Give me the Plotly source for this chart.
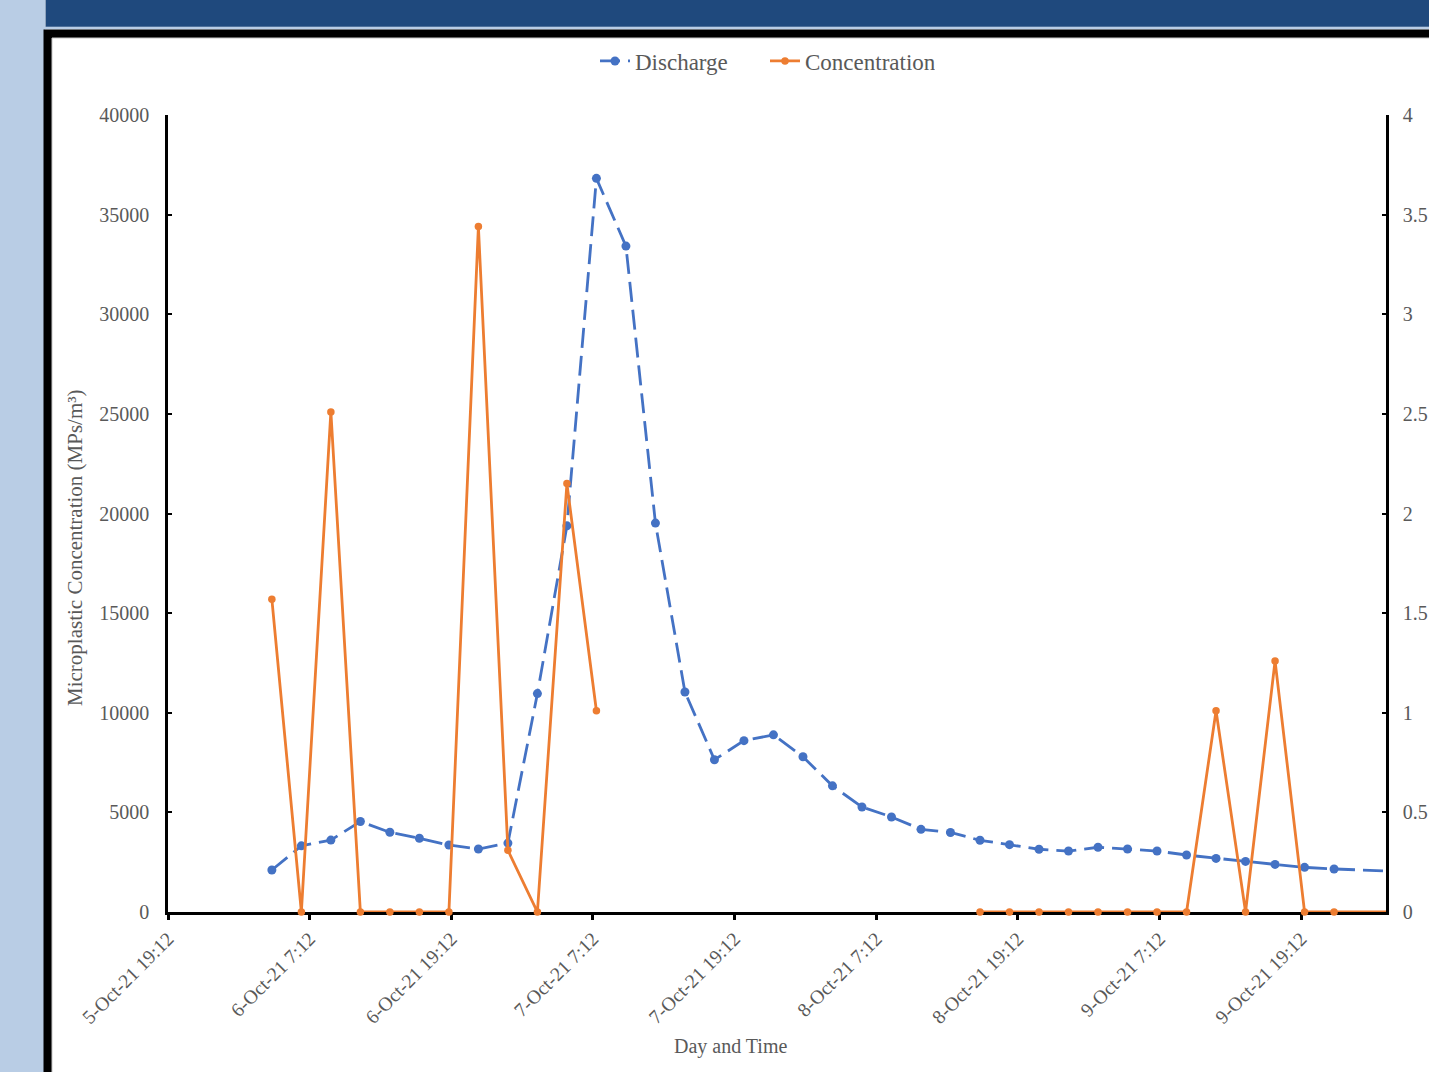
import plotly.graph_objects as go

# ---------------- data ----------------
times = [
    "2021-10-06 04:00", "2021-10-06 06:30", "2021-10-06 09:00", "2021-10-06 11:30",
    "2021-10-06 14:00", "2021-10-06 16:30", "2021-10-06 19:00", "2021-10-06 21:30",
    "2021-10-07 00:00", "2021-10-07 02:30", "2021-10-07 05:00", "2021-10-07 07:30",
    "2021-10-07 10:00", "2021-10-07 12:30", "2021-10-07 15:00", "2021-10-07 17:30",
    "2021-10-07 20:00", "2021-10-07 22:30", "2021-10-08 01:00", "2021-10-08 03:30",
    "2021-10-08 06:00", "2021-10-08 08:30", "2021-10-08 11:00", "2021-10-08 13:30",
    "2021-10-08 16:00", "2021-10-08 18:30", "2021-10-08 21:00", "2021-10-08 23:30",
    "2021-10-09 02:00", "2021-10-09 04:30", "2021-10-09 07:00", "2021-10-09 09:30",
    "2021-10-09 12:00", "2021-10-09 14:30", "2021-10-09 17:00", "2021-10-09 19:30",
    "2021-10-09 22:00", "2021-10-10 03:00",
]

discharge = [
    2110, 3320, 3610, 4540, 4000, 3700, 3360, 3160,
    3460, 10960, 19380, 36820, 33420, 19520, 11040, 7640,
    8600, 8890, 7790, 6330, 5270, 4770, 4150, 3990,
    3600, 3380, 3150, 3060, 3250, 3160, 3060, 2860,
    2690, 2540, 2390, 2240, 2160, 2050,
]

concentration = [
    1.57, 0, 2.51, 0, 0, 0, 0, 3.44,
    0.31, 0, 2.15, 1.01, None, None, None, None,
    None, None, None, None, None, None, None, None,
    0, 0, 0, 0, 0, 0, 0, 0,
    1.01, 0, 1.26, 0, 0, 0,
]

x_range = ["2021-10-05 19:12", "2021-10-10 02:24"]
left_ticks = [0, 5000, 10000, 15000, 20000, 25000, 30000, 35000, 40000]
right_ticks = [0, 0.5, 1, 1.5, 2, 2.5, 3, 3.5, 4]

# ---------------- style ----------------
BLUE = "#4472C4"
ORANGE = "#ED7D31"
GREY = "#595959"
SERIF = "Liberation Serif, Times New Roman, serif"

W, H = 1429, 1072
L, R, T, B = 168, 1386, 115, 912  # plot area in pixels


def px(xp):
    return (xp - L) / (R - L)


def py(yp):
    return (B - yp) / (B - T)


fig = go.Figure()

fig.add_trace(go.Scatter(
    x=times, y=discharge, name="Discharge", mode="lines+markers",
    line=dict(color=BLUE, width=2.8, dash="20px,8px"),
    marker=dict(color=BLUE, size=9),
    yaxis="y", cliponaxis=True,
))

fig.add_trace(go.Scatter(
    x=times, y=concentration, name="Concentration", mode="lines+markers",
    line=dict(color=ORANGE, width=2.8),
    marker=dict(color=ORANGE, size=7.5),
    yaxis="y2", cliponaxis=False, connectgaps=False,
))

shapes = [
    dict(type="rect", xref="paper", yref="paper", x0=px(0), x1=px(45), y0=py(W + 100), y1=py(0),
         fillcolor="#B9CDE5", line=dict(width=0), layer="below"),
    dict(type="rect", xref="paper", yref="paper", x0=px(45), x1=px(W + 5), y0=py(29.5), y1=py(26.5),
         fillcolor="#B9CDE5", line=dict(width=0), layer="below"),
    dict(type="rect", xref="paper", yref="paper", x0=px(45.5), x1=px(W + 5), y0=py(26.7), y1=py(-5),
         fillcolor="#1F497D", line=dict(width=0), layer="below"),
    dict(type="rect", xref="paper", yref="paper", x0=px(43.5), x1=px(W + 20), y0=py(H + 20), y1=py(29.5),
         fillcolor="#000000", line=dict(width=0), layer="below"),
    dict(type="rect", xref="paper", yref="paper", x0=px(52), x1=px(W + 20), y0=py(H + 20), y1=py(38),
         fillcolor="#FFFFFF", line=dict(color="#C8C8C8", width=1), layer="below"),
]

annotations = [
    dict(text="Microplastic Concentration (MPs/m³)", xref="paper", yref="paper",
         x=px(75), y=py(548), textangle=-90, showarrow=False,
         xanchor="center", yanchor="middle", font=dict(family=SERIF, size=21, color=GREY)),
    dict(text="Day and Time", xref="paper", yref="paper",
         x=px(730), y=py(1046), showarrow=False,
         xanchor="center", yanchor="middle", font=dict(family=SERIF, size=20, color=GREY)),
]

fig.update_layout(
    width=W, height=H, autosize=False,
    margin=dict(l=L, r=W - R, t=T, b=H - B, pad=0),
    paper_bgcolor="#FFFFFF", plot_bgcolor="rgba(0,0,0,0)",
    font=dict(family=SERIF, size=20, color=GREY),
    shapes=shapes, annotations=annotations,
    showlegend=True,
    legend=dict(orientation="h", x=px(765), y=py(61), xanchor="center", yanchor="middle",
                font=dict(family=SERIF, size=23, color=GREY), bgcolor="rgba(0,0,0,0)",
                entrywidth=125, entrywidthmode="pixels"),
    xaxis=dict(
        type="date", range=x_range, tick0=x_range[0], dtick=43200000,
        tickformat="%-d-%b-%y %-H:%M", tickangle=-45, automargin=False,
        showgrid=False, zeroline=False, showline=True, linecolor="#000000", linewidth=2.5,
        ticks="outside", ticklen=5, tickwidth=2.5, tickcolor="#000000",
        tickfont=dict(family=SERIF, size=19.5, color=GREY), layer="below traces",
    ),
    yaxis=dict(
        range=[0, 40000], tickvals=left_ticks, tickformat="d", automargin=False,
        showgrid=False, zeroline=False, showline=True, linecolor="#000000", linewidth=2.5,
        ticks="inside", ticklen=4, tickwidth=2, tickcolor="#000000",
        tickfont=dict(family=SERIF, size=20, color=GREY), ticklabelstandoff=12,
        layer="below traces",
    ),
    yaxis2=dict(
        range=[0, 4], tickvals=right_ticks, overlaying="y", side="right", automargin=False,
        showgrid=False, zeroline=False, showline=True, linecolor="#000000", linewidth=2.5,
        ticks="inside", ticklen=4, tickwidth=2, tickcolor="#000000",
        tickfont=dict(family=SERIF, size=20, color=GREY), ticklabelstandoff=10,
        layer="below traces",
    ),
)

fig.write_html(
    "out.html",
    config={"displayModeBar": False},
    post_script="document.body.style.margin='0';document.body.style.overflow='hidden';",
)
